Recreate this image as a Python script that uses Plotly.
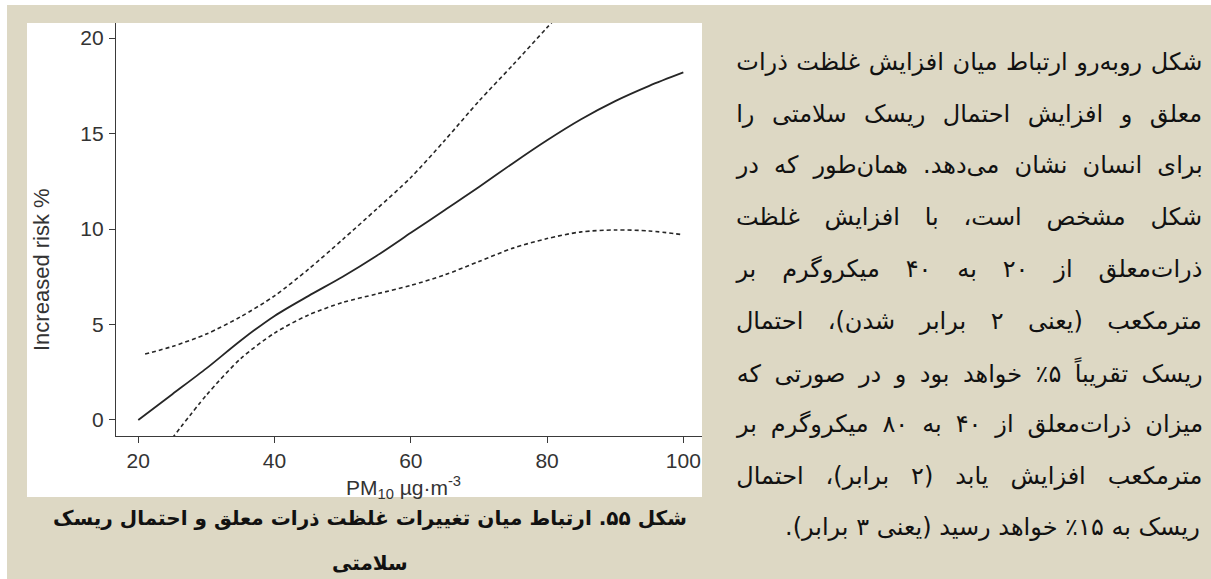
import plotly.graph_objects as go

# PM10 concentration (µg/m3) and the estimated increase in health risk (%)
pm10 = [20, 25, 30, 35, 40, 45, 50, 55, 60, 65, 70, 75, 80, 85, 90, 95, 100]
risk_mean = [0.0, 1.35, 2.7, 4.15, 5.45, 6.5, 7.5, 8.6, 9.8, 11.0, 12.2,
             13.45, 14.65, 15.75, 16.7, 17.5, 18.2]

upper_pm10 = [21, 25, 30, 35, 40, 45, 50, 55, 60, 65, 70, 75, 80, 85]
risk_upper = [3.45, 3.85, 4.5, 5.4, 6.5, 7.9, 9.45, 11.05, 12.7, 14.65, 16.7,
              18.6, 20.55, 22.5]

lower_pm10 = [25, 30, 35, 40, 45, 50, 55, 60, 65, 70, 75, 80, 85, 90, 95, 100]
risk_lower = [-0.95, 1.3, 3.2, 4.55, 5.5, 6.15, 6.6, 7.05, 7.6, 8.3, 9.0, 9.5,
              9.85, 9.95, 9.9, 9.7]

x_ticks = [20, 40, 60, 80, 100]
y_ticks = [0, 5, 10, 15, 20]

caption_lines = [
    "شکل ۵۵. ارتباط میان تغییرات غلظت ذرات معلق و احتمال ریسک",
    "سلامتی",
]

paragraph_lines = [
    "شکل روبه‌رو ارتباط میان افزایش غلظت ذرات",
    "معلق و افزایش احتمال ریسک سلامتی را",
    "برای انسان نشان می‌دهد. همان‌طور که در",
    "شکل مشخص است، با افزایش غلظت",
    "ذرات‌معلق از ۲۰ به ۴۰ میکروگرم بر",
    "مترمکعب (یعنی ۲ برابر شدن)، احتمال",
    "ریسک تقریباً ۵٪ خواهد بود و در صورتی که",
    "میزان ذرات‌معلق از ۴۰ به ۸۰ میکروگرم بر",
    "مترمکعب افزایش یابد (۲ برابر)، احتمال",
    "ریسک به ۱۵٪ خواهد رسید (یعنی ۳ برابر).",
]

W, H = 1211, 579
# plot area in pixels
L, R, T, B = 116, 702, 23, 436
BEIGE = "rgb(221,216,196)"
INK = "#262626"
LATIN = "Liberation Sans, Arial, sans-serif"
PERSIAN = "DejaVu Sans, sans-serif"

# right-hand text column
TEXT_LEFT, TEXT_RIGHT = 736, 1202
LINE_Y0, LINE_STEP = 62, 51.7


def px(xp):
    return (xp - L) / (R - L)


def py(yp):
    return (B - yp) / (B - T)


fig = go.Figure()

line_common = dict(shape="spline", smoothing=0.8, color=INK)
fig.add_trace(go.Scatter(x=upper_pm10, y=risk_upper, mode="lines",
                         line=dict(width=1.6, dash="4px,3px", **line_common),
                         hoverinfo="skip"))
fig.add_trace(go.Scatter(x=lower_pm10, y=risk_lower, mode="lines",
                         line=dict(width=1.6, dash="4px,3px", **line_common),
                         hoverinfo="skip"))
fig.add_trace(go.Scatter(x=pm10, y=risk_mean, mode="lines",
                         line=dict(width=1.8, **line_common),
                         hoverinfo="skip"))

axis_common = dict(
    showgrid=False, zeroline=False, showline=True, linecolor="#3a3a3a",
    linewidth=1.2, ticks="outside", ticklen=6, tickwidth=1.2,
    tickcolor="#3a3a3a", tickfont=dict(family=LATIN, size=21, color="#333"),
    fixedrange=True,
)
fig.update_xaxes(range=[16.73, 102.74], tickvals=x_ticks, ticklabelstandoff=0,
                 **axis_common)
fig.update_yaxes(range=[-0.84, 20.79], tickvals=y_ticks, ticklabelstandoff=1,
                 **axis_common)

annotations = [
    dict(text="Increased risk %", x=px(41), y=py(270), textangle=-90,
         font=dict(family=LATIN, size=22, color="#333")),
    dict(text="PM<sub>10</sub> µg·m<sup>-3</sup>", x=px(403), y=py(487),
         font=dict(family=LATIN, size=21, color="#333")),
]

# figure caption under the panel
for txt, yc in zip(caption_lines, [518, 563]):
    annotations.append(dict(
        text="\u200f" + txt + "\u200f", x=px(370), y=py(yc),
        font=dict(family=PERSIAN, size=20, color="#111", weight="bold")))

# paragraph on the right; all lines but the last are justified in the page
justified = []
for i, txt in enumerate(paragraph_lines):
    yc = LINE_Y0 + i * LINE_STEP
    font = dict(family=PERSIAN, size=24, color="#111")
    if i == len(paragraph_lines) - 1:
        annotations.append(dict(text="\u200f" + txt + "\u200f",
                                x=px(TEXT_RIGHT), y=py(yc), xanchor="right",
                                font=font))
    else:
        justified.append(len(annotations))
        annotations.append(dict(text="\u200f" + txt + "\u200f",
                                x=px((TEXT_LEFT + TEXT_RIGHT) / 2), y=py(yc),
                                font=font))

for a in annotations:
    a.update(xref="paper", yref="paper", showarrow=False)
    a.setdefault("xanchor", "center")
    a.setdefault("yanchor", "middle")

shapes = [
    # white panel behind the chart
    dict(type="rect", xref="paper", yref="paper", x0=px(27), x1=px(702),
         y0=py(497), y1=py(23), fillcolor="white", line=dict(width=0),
         layer="below"),
    # thin white borders along the top and left page edges
    dict(type="rect", xref="paper", yref="paper", x0=px(0), x1=px(W),
         y0=py(5), y1=py(0), fillcolor="white", line=dict(width=0),
         layer="below"),
    dict(type="rect", xref="paper", yref="paper", x0=px(0), x1=px(7),
         y0=py(H), y1=py(0), fillcolor="white", line=dict(width=0),
         layer="below"),
]

fig.update_layout(
    width=W, height=H,
    margin=dict(l=L, r=W - R, t=T, b=H - B, pad=0),
    paper_bgcolor=BEIGE, plot_bgcolor="white",
    showlegend=False, annotations=annotations, shapes=shapes,
)

# stretch the word spacing of the justified lines to the column width
justify_js = """
var gd = document.getElementById('{plot_id}');
var target = %d;
var idxs = %s;
gd.querySelectorAll('g.annotation').forEach(function (g) {
  var i = parseInt(g.getAttribute('data-index'));
  if (idxs.indexOf(i) < 0) return;
  var t = g.querySelector('text.annotation-text');
  if (!t) return;
  var w = t.getComputedTextLength();
  if (w > target) {
    var fs = parseFloat(window.getComputedStyle(t).fontSize);
    t.style.fontSize = (fs * target / w) + 'px';
    w = t.getComputedTextLength();
  }
  var n = (t.textContent.match(/ /g) || []).length;
  if (n > 0 && w < target) {
    t.style.wordSpacing = ((target - w) / n) + 'px';
  }
});
""" % (TEXT_RIGHT - TEXT_LEFT, str(justified))

fig.write_html("out.html", config={"displayModeBar": False},
               post_script=justify_js)
